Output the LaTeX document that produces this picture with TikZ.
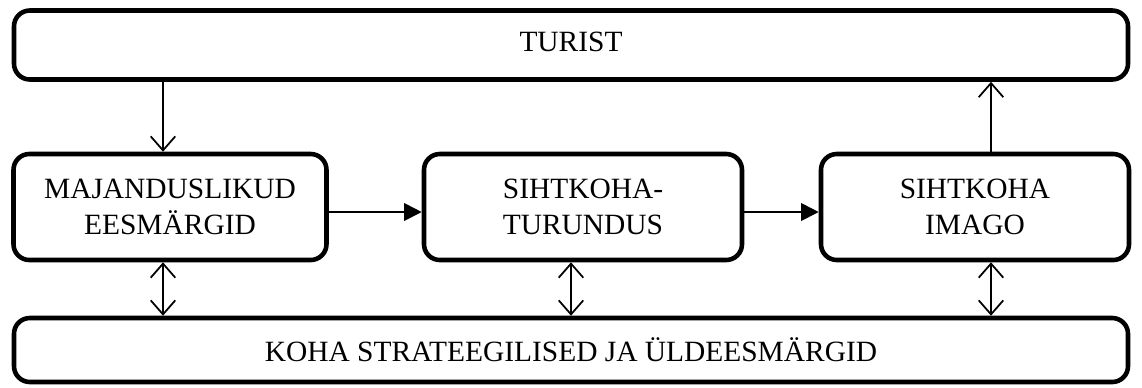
\documentclass[tikz,border=0pt]{standalone}
\usepackage{fontspec}
\setmainfont{Liberation Serif}
\usetikzlibrary{arrows.meta}
\begin{document}
\begin{tikzpicture}[x=0.02cm,y=-0.02cm,
  box/.style={draw,line width=2.6pt,rounded corners=9pt,inner sep=0pt,align=center,font=\fontsize{16.75}{20.8}\selectfont},
  open/.style={line width=1pt,-{Straight Barb[length=8pt,width=14pt,line width=1pt]}},
  dbl/.style={line width=1pt,{Straight Barb[length=8pt,width=14pt,line width=1pt]}-{Straight Barb[length=8pt,width=14pt,line width=1pt]}},
  fill/.style={line width=1pt,-{Triangle[length=10pt,width=10pt]}}]
\useasboundingbox (0,0) rectangle (1142,387);
\node[box,minimum width=1114*0.02cm,minimum height=69*0.02cm] (turist) at (571,45) {\raisebox{0.12cm}{TURIST}};
\node[box,minimum width=313*0.02cm,minimum height=106*0.02cm] (maj) at (170,207) {MAJANDUSLIKUD\\EESMÄRGID};
\node[box,minimum width=318*0.02cm,minimum height=106*0.02cm] (siht) at (583,207) {SIHTKOHA-\\TURUNDUS};
\node[box,minimum width=308*0.02cm,minimum height=106*0.02cm] (imago) at (975,207) {SIHTKOHA\\IMAGO};
\node[box,minimum width=1114*0.02cm,minimum height=64*0.02cm] (koha) at (571,350) {KOHA STRATEEGILISED JA ÜLDEESMÄRGID};
\draw[open] (turist.south -| 163,0) -- (maj.north -| 163,0);
\draw[open] (imago.north -| 991,0) -- (turist.south -| 991,0);
\draw[fill] (maj.east |- 0,212) -- (siht.west |- 0,212);
\draw[fill] (siht.east |- 0,212) -- (imago.west |- 0,212);
\draw[dbl] (maj.south -| 163,0) -- (koha.north -| 163,0);
\draw[dbl] (siht.south -| 571,0) -- (koha.north -| 571,0);
\draw[dbl] (imago.south -| 991,0) -- (koha.north -| 991,0);
\end{tikzpicture}
\end{document}
